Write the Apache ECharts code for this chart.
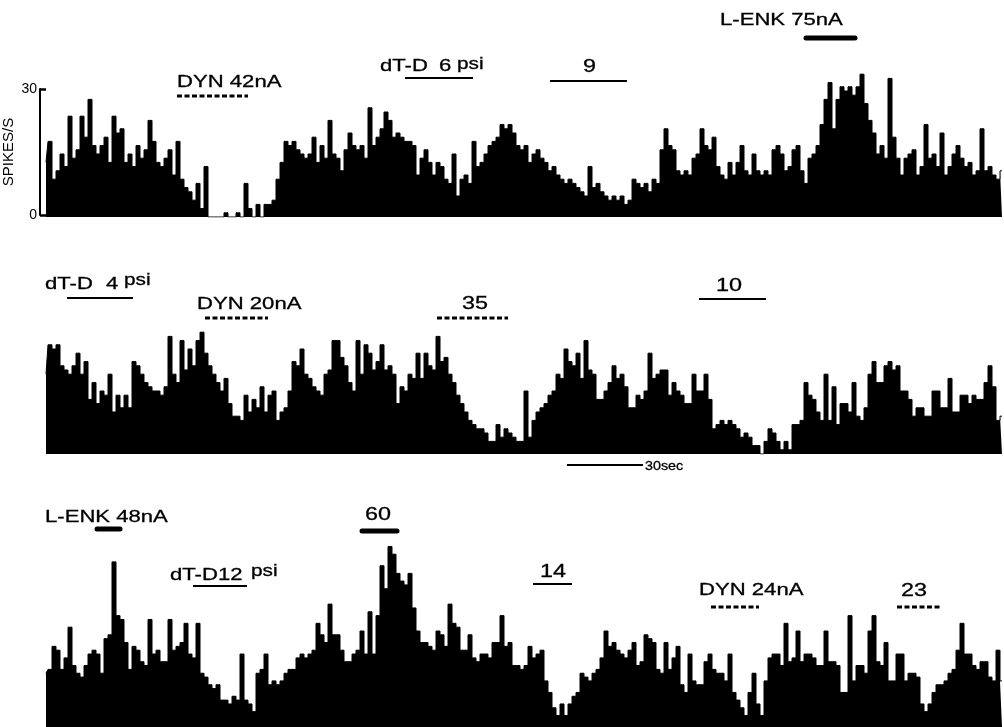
<!DOCTYPE html>
<html lang="en">

<head>
  <meta charset="UTF-8">
  <title>Spike rate histograms</title>
  <style>
    body {
      margin: 0;
      background: #fff;
    }

    #chart {
      width: 1004px;
      height: 727px;
    }
  </style>
</head>

<body>
  <div id="chart"></div>
</body>
<script src="https://cdn.jsdelivr.net/npm/echarts/dist/echarts.min.js"></script>
<script>
  // spikes/s per bin (left to right)
  var row1Rate = [
    13, 18, 9, 11, 15, 12, 24, 14, 16, 24,
    19, 28, 17, 15, 17, 19, 13, 24, 20, 21,
    13, 15, 12, 17, 14, 16, 23, 18, 13, 12,
    14, 16, 10, 18, 9, 7, 6, 4, 8, 2,
    12, 0, 0, 0, 0, 1, 0, 0, 1, 0,
    8, 2, 0, 3, 0, 3, 3, 4, 9, 13,
    18, 17, 18, 16, 15, 14, 15, 19, 13, 17,
    14, 23, 15, 14, 11, 16, 20, 17, 16, 17,
    14, 26, 17, 19, 21, 25, 23, 19, 20, 19,
    18, 18, 17, 10, 14, 16, 13, 10, 13, 12,
    9, 8, 15, 5, 9, 10, 8, 18, 12, 13,
    15, 17, 18, 19, 22, 21, 22, 20, 17, 16,
    17, 13, 15, 16, 14, 13, 11, 12, 10, 9,
    8, 9, 8, 7, 6, 5, 12, 7, 8, 6,
    5, 4, 5, 4, 5, 3, 4, 9, 8, 7,
    8, 6, 9, 8, 16, 21, 17, 16, 11, 10,
    11, 10, 14, 15, 21, 17, 16, 19, 12, 10,
    9, 13, 10, 13, 17, 11, 10, 15, 11, 10,
    11, 10, 16, 17, 15, 11, 12, 16, 17, 11,
    8, 14, 15, 17, 22, 28, 32, 21, 28, 31,
    30, 31, 29, 31, 34, 27, 23, 20, 15, 17,
    14, 33, 19, 14, 10, 14, 15, 16, 10, 12,
    22, 14, 15, 12, 20, 10, 12, 15, 17, 14,
    12, 13, 10, 11, 21, 11, 12, 10, 9, 11
  ]
  var row2Rate = [
    19, 26, 25, 26, 21, 20, 19, 21, 24, 19,
    22, 13, 17, 12, 15, 14, 19, 10, 14, 11,
    14, 11, 22, 21, 19, 17, 16, 15, 15, 14,
    16, 28, 19, 17, 27, 20, 25, 21, 27, 29,
    24, 21, 19, 17, 15, 18, 12, 9, 9, 8,
    14, 10, 13, 11, 16, 10, 14, 15, 8, 10,
    11, 15, 22, 21, 25, 19, 18, 16, 15, 14,
    19, 20, 27, 27, 23, 21, 17, 15, 27, 19,
    26, 24, 20, 22, 26, 20, 21, 19, 12, 16,
    15, 19, 18, 24, 18, 24, 21, 20, 28, 22,
    23, 19, 17, 14, 12, 10, 8, 7, 6, 6,
    5, 3, 3, 7, 4, 6, 5, 4, 3, 3,
    15, 4, 8, 10, 11, 12, 14, 15, 19, 18,
    25, 22, 21, 24, 18, 27, 20, 19, 13, 13,
    15, 17, 21, 18, 19, 16, 11, 11, 14, 13,
    15, 24, 18, 19, 20, 20, 14, 17, 15, 14,
    12, 12, 19, 15, 15, 19, 13, 6, 7, 8,
    7, 8, 7, 6, 4, 5, 4, 2, 2, 0,
    3, 6, 5, 3, 1, 3, 1, 7, 7, 8,
    17, 14, 13, 10, 8, 19, 8, 16, 7, 12,
    12, 10, 17, 9, 8, 11, 19, 22, 17, 17,
    21, 22, 20, 21, 15, 15, 13, 9, 11, 11,
    9, 9, 15, 15, 11, 11, 18, 10, 10, 14,
    14, 12, 14, 13, 13, 17, 21, 16, 8, 9
  ]
  var row3Rate = [
    14, 15, 21, 20, 15, 18, 26, 16, 14, 13,
    16, 19, 20, 19, 14, 23, 24, 43, 29, 28,
    22, 15, 21, 20, 17, 16, 28, 19, 20, 17,
    17, 28, 20, 21, 22, 27, 19, 18, 27, 14,
    13, 11, 10, 11, 7, 7, 6, 8, 7, 19,
    7, 6, 4, 14, 15, 19, 11, 12, 11, 12,
    14, 15, 15, 18, 19, 18, 19, 20, 27, 24,
    22, 32, 24, 24, 20, 17, 17, 19, 20, 25,
    19, 30, 19, 29, 42, 36, 47, 45, 40, 38,
    37, 40, 31, 25, 22, 22, 21, 20, 25, 24,
    21, 32, 27, 26, 20, 20, 24, 18, 17, 19,
    19, 18, 22, 22, 29, 21, 22, 16, 16, 15,
    16, 21, 18, 19, 20, 12, 9, 5, 3, 6,
    3, 6, 8, 9, 14, 13, 12, 14, 15, 18,
    25, 21, 22, 20, 19, 18, 20, 22, 16, 17,
    24, 23, 22, 15, 14, 22, 15, 18, 21, 11,
    9, 19, 12, 11, 11, 17, 19, 15, 14, 14,
    12, 19, 9, 7, 5, 3, 9, 14, 6, 3,
    12, 18, 19, 19, 16, 27, 17, 18, 25, 17,
    19, 19, 18, 16, 16, 25, 17, 17, 16, 9,
    9, 29, 12, 16, 16, 14, 25, 29, 17, 16,
    22, 12, 12, 19, 19, 12, 14, 14, 13, 6,
    4, 6, 9, 11, 11, 12, 14, 15, 20, 27,
    19, 19, 16, 15, 17, 17, 13, 12, 20, 12
  ]
  var yTicks = [0, 30]

  // drug labels: text, left, middle y, font size
  var labels = [
    ['DYN 42nA', 177, 82.5, 17],
    ['dT-D', 380, 66.5, 17],
    ['6', 439, 66.5, 17],
    ['psi', 457, 64.5, 16],
    ['9', 583, 67.5, 18],
    ['L-ENK 75nA', 720, 20.5, 17],
    ['dT-D', 45, 284, 17],
    ['4', 106, 284, 17],
    ['psi', 124, 280.5, 16],
    ['DYN 20nA', 197, 304, 17],
    ['35', 462, 304, 18],
    ['10', 716, 286, 18],
    ['30sec', 645, 466, 13],
    ['L-ENK 48nA', 45, 517, 17],
    ['dT-D12', 170, 575, 17],
    ['psi', 251, 571.5, 16],
    ['60', 365, 515, 18],
    ['14', 540, 572, 18],
    ['DYN 24nA', 699, 590, 17],
    ['23', 901, 591, 18]
  ]
  // application bars: x1, x2, y, kind
  var marks = [
    [177, 248, 96, 'dot'], [405, 473, 78, 'line'], [550, 627, 81, 'line'], [806, 855, 38, 'bar'],
    [67, 133, 298, 'line'], [205, 268, 318, 'dot'], [437, 508, 318, 'dot'], [699, 766, 299, 'line'],
    [567, 643, 465, 'line'],
    [97, 120, 529, 'bar'], [362, 397, 531, 'bar'], [193, 247, 586, 'line'], [533, 572, 584, 'line'],
    [711, 759, 607, 'dot'], [897, 942, 607, 'dot']
  ]

  function drawChart() {
    var myChart = echarts.init(document.getElementById('chart'))
    var PX = 4.2 // pixels per spike/s, same gain on every trace
    var bins = []
    for (var i = 0; i < row1Rate.length; i++) bins.push(i)

    function rowGrid(baseline, max) {
      return { left: 44, width: 964, top: baseline - max * PX, height: max * PX }
    }
    var rows = [
      { data: row1Rate, baseline: 217, max: 40 },
      { data: row2Rate, baseline: 454, max: 40 },
      { data: row3Rate, baseline: 745, max: 50 }
    ]

    // grid 0 only carries the calibration axis
    var grid = [{ left: 40, top: 89, height: 126, width: 10 }]
    var xAxis = [{ type: 'value', show: false, min: 0, max: 1, gridIndex: 0 }]
    var yAxis = [{
      type: 'value',
      gridIndex: 0,
      min: yTicks[0],
      max: yTicks[1],
      interval: yTicks[1],
      axisLine: { show: true, onZero: false, lineStyle: { color: '#000', width: 2 } },
      axisTick: { show: true, inside: true, length: 6, lineStyle: { color: '#000', width: 2.5 } },
      axisLabel: { color: '#000', fontSize: 14, margin: 3, fontFamily: 'Liberation Sans' },
      splitLine: { show: false },
      name: 'SPIKES/S',
      nameLocation: 'middle',
      nameGap: 24,
      nameTextStyle: { color: '#000', fontSize: 15, fontFamily: 'Liberation Sans' }
    }]
    var series = []
    rows.forEach(function (r, k) {
      grid.push(rowGrid(r.baseline, r.max))
      xAxis.push({ type: 'category', data: bins, show: false, gridIndex: k + 1 })
      yAxis.push({ type: 'value', show: false, min: 0, max: r.max, gridIndex: k + 1 })
      // stepped filled trace = histogram without seams between bins
      series.push({
        type: 'line',
        xAxisIndex: k + 1,
        yAxisIndex: k + 1,
        data: r.data,
        step: 'middle',
        symbol: 'none',
        lineStyle: { color: '#000', width: 1 },
        areaStyle: { color: '#000', opacity: 1 },
        silent: true
      })
    })

    var graphic = []
    labels.forEach(function (t) {
      graphic.push({
        type: 'text',
        x: t[1],
        y: t[2],
        scaleX: t[3] < 14 ? 1.1 : 1.3,
        style: {
          text: t[0],
          font: t[3] + 'px "Liberation Sans"',
          fill: '#000',
          stroke: '#000',
          lineWidth: 0.3,
          align: 'left',
          verticalAlign: 'middle'
        }
      })
    })
    marks.forEach(function (m) {
      var st = { stroke: '#000', lineWidth: 2 }
      if (m[3] == 'dot') { st.lineWidth = 3; st.lineDash = [5, 2.5] }
      if (m[3] == 'bar') { st.lineWidth = 5; st.lineCap = 'round' }
      graphic.push({ type: 'line', shape: { x1: m[0], y1: m[2], x2: m[1], y2: m[2] }, style: st })
    })

    var option = {
      animation: false,
      grid: grid,
      xAxis: xAxis,
      yAxis: yAxis,
      series: series,
      graphic: graphic
    }
    myChart.setOption(option)
  }
  drawChart()
</script>

</html>
